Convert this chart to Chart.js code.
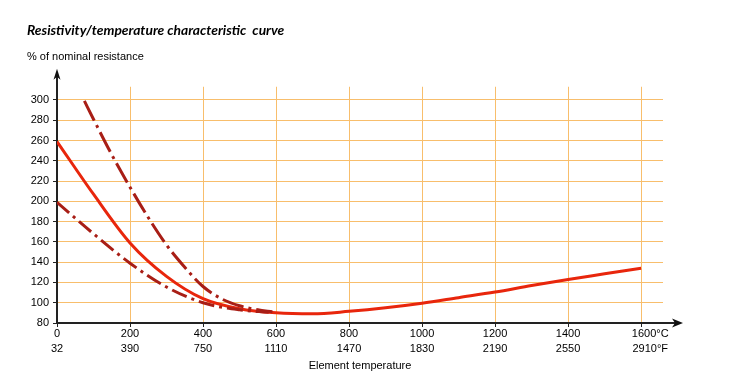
<!DOCTYPE html>
<html>
<head>
<meta charset="utf-8">
<script src="https://cdn.jsdelivr.net/npm/chart.js@4"></script>
<style>
  body { margin: 0; background: #fff; }
  canvas { display: block; }
</style>
</head>
<body>
<canvas id="myChart" width="733" height="380"></canvas>
<script>
// values, % of nominal resistance by temperature in °C
const solidTemps = [0, 100, 200, 300, 400, 500, 600, 700, 800, 900, 1000, 1100, 1200, 1300, 1400, 1500, 1600];
const solidValues = [259, 207, 159, 126, 104, 94, 90, 89, 91.5, 95, 99.5, 105, 110.5, 117, 123, 128.5, 134];

const upperTemps = [75, 100, 150, 200, 250, 300, 350, 400, 450, 500, 550, 590];
const upperValues = [299, 281, 246, 214, 184, 157, 135, 116, 104, 97, 93, 91];

const lowerTemps = [0, 100, 200, 300, 400, 500, 580];
const lowerValues = [199, 168, 139, 115.5, 100, 93, 90.5];

const celsiusTicks = [0, 200, 400, 600, 800, 1000, 1200, 1400, 1600];
const fahrenheitTicks = [32, 390, 750, 1110, 1470, 1830, 2190, 2550, 2910];
const yTicks = [80, 100, 120, 140, 160, 180, 200, 220, 240, 260, 280, 300];

const gridColor = "#f8be6c";
const tickFont = { family: "'Liberation Sans', Arial, sans-serif", size: 11 };

const toPoints = (xs, ys) => xs.map((x, i) => ({ x: x, y: ys[i] }));

// draws the two black axes with arrow heads
const arrowAxes = {
  id: "arrowAxes",
  beforeDatasetsDraw(chart) {
    const { ctx, chartArea } = chart;
    const x0 = chartArea.left, y0 = chartArea.bottom;
    const xEnd = chartArea.right + 20, yEnd = chartArea.top - 18;
    ctx.save();
    ctx.strokeStyle = "#222";
    ctx.fillStyle = "#111";
    ctx.lineWidth = 2;
    ctx.beginPath();
    ctx.moveTo(x0, y0);
    ctx.lineTo(xEnd - 6, y0);
    ctx.moveTo(x0, y0);
    ctx.lineTo(x0, yEnd + 6);
    ctx.stroke();
    ctx.beginPath();
    ctx.moveTo(xEnd, y0);
    ctx.lineTo(xEnd - 11, y0 - 4.5);
    ctx.lineTo(xEnd - 8, y0);
    ctx.lineTo(xEnd - 11, y0 + 4.5);
    ctx.closePath();
    ctx.fill();
    ctx.beginPath();
    ctx.moveTo(x0, yEnd);
    ctx.lineTo(x0 - 3.5, yEnd + 11);
    ctx.lineTo(x0, yEnd + 8);
    ctx.lineTo(x0 + 3.5, yEnd + 11);
    ctx.closePath();
    ctx.fill();
    ctx.restore();
  }
};

const ctx = document.getElementById("myChart").getContext("2d");
const myChart = new Chart(ctx, {
  type: "line",
  data: {
    datasets: [{
      data: toPoints(upperTemps, upperValues),
      borderColor: "#a81e16",
      borderWidth: 3,
      borderDash: [22, 5, 3, 5],
      pointRadius: 0,
      cubicInterpolationMode: "monotone"
    }, {
      data: toPoints(lowerTemps, lowerValues),
      borderColor: "#a81e16",
      borderWidth: 3,
      borderDash: [16, 5, 3, 5],
      pointRadius: 0,
      cubicInterpolationMode: "monotone"
    }, {
      data: toPoints(solidTemps, solidValues),
      borderColor: "#e8260c",
      borderWidth: 3,
      pointRadius: 0,
      cubicInterpolationMode: "monotone"
    }]
  },
  options: {
    responsive: false,
    animation: false,
    layout: { padding: { left: 27, top: 20, right: 70, bottom: 0 } },
    plugins: {
      legend: { display: false },
      tooltip: { enabled: false },
      title: {
        display: true,
        text: "Resistivity/temperature characteristic  curve",
        align: "start",
        color: "#000",
        font: { family: "Lato, 'Open Sans', sans-serif", size: 13.8, weight: "bold", style: "italic" },
        padding: { top: 2, bottom: 12 }
      },
      subtitle: {
        display: true,
        text: "% of nominal resistance",
        align: "start",
        color: "#000",
        font: tickFont,
        padding: { top: 0, bottom: 23 }
      }
    },
    scales: {
      x: {
        type: "linear",
        min: 0,
        max: 1660,
        afterBuildTicks: scale => { scale.ticks = celsiusTicks.map(v => ({ value: v })); },
        afterFit: scale => { scale.height = 57; },
        border: { display: false },
        grid: { color: gridColor, tickColor: "#222", tickLength: 4, lineWidth: 1 },
        ticks: {
          color: "#000",
          font: { family: tickFont.family, size: 11, lineHeight: 1.36 },
          padding: -0.5,
          maxRotation: 0,
          autoSkip: false,
          callback: value => {
            const i = celsiusTicks.indexOf(value);
            if (i === celsiusTicks.length - 1) {
              return ["      " + value + "°C", "      " + fahrenheitTicks[i] + "°F"];
            }
            return [String(value), String(fahrenheitTicks[i])];
          }
        },
        title: {
          display: true,
          text: "Element temperature",
          color: "#000",
          font: tickFont,
          padding: { top: 0, bottom: 7.5 }
        }
      },
      y: {
        min: 80,
        max: 313,
        afterBuildTicks: scale => { scale.ticks = yTicks.map(v => ({ value: v })); },
        afterFit: scale => { scale.width = 30; },
        border: { display: false },
        grid: { color: gridColor, tickColor: "#222", tickLength: 4, lineWidth: 1 },
        ticks: { color: "#000", font: tickFont, padding: 4 }
      }
    }
  },
  plugins: [arrowAxes]
});
</script>
</body>
</html>
